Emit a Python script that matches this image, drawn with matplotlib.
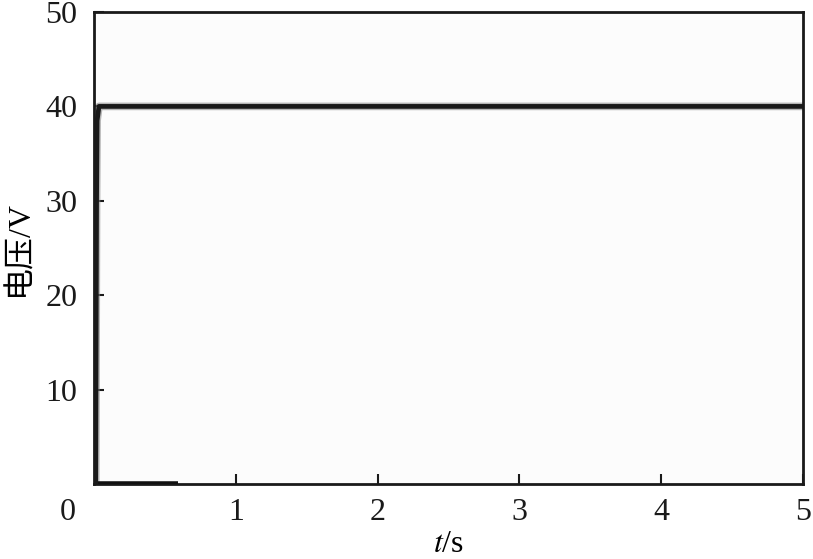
import matplotlib
matplotlib.use('Agg')
import matplotlib.pyplot as plt
import matplotlib.transforms as mtransforms

# voltage trace
t = [0.0, 0.012, 0.018, 0.022, 0.035, 0.1, 1.0, 2.0, 3.0, 4.0, 5.0]
v = [0.0, 0.0, 30.0, 38.5, 40.0, 40.0, 40.0, 40.0, 40.0, 40.0, 40.0]
# flat segment at zero along the bottom
t0 = [0.0, 0.59]
v0 = [0.0, 0.0]

xticks = [0, 1, 2, 3, 4, 5]
yticks = [10, 20, 30, 40, 50]

plt.rcParams['font.family'] = ['Liberation Serif', 'Noto Sans CJK SC']
plt.rcParams['mathtext.fontset'] = 'stix'

fig = plt.figure(figsize=(8.13, 5.59), dpi=100)
ax = fig.add_axes([94/813, 1 - 484/559, (803-94)/813, (484-12)/559])
ax.set_facecolor('#fcfcfc')

ax.plot(t0, v0, color='#111111', linewidth=4, solid_capstyle='butt', zorder=3)
ax.plot(t, v, color='#888888', linewidth=5.5, alpha=0.6, zorder=2)
ax.plot(t, v, color='#1a1a1a', linewidth=3.4, zorder=3)

ax.set_xlim(0, 5)
ax.set_ylim(0, 50)
ax.set_xticks(xticks)
ax.set_yticks(yticks)
ax.set_xticklabels([str(x) for x in xticks])
ax.set_yticklabels([str(y) for y in yticks])
ax.tick_params(direction='in', length=7, width=1.5, labelsize=23, colors='#1a1a1a')
ax.tick_params(axis='y', pad=12)
ax.tick_params(axis='x', pad=10)
ax.xaxis.get_major_ticks()[0].tick1line.set_visible(False)
for s in ax.spines.values():
    s.set_linewidth(2)
    s.set_color('#1a1a1a')

# origin label sits left of the corner
shift = mtransforms.ScaledTranslation(-26/100, 0, fig.dpi_scale_trans)
lab0 = ax.get_xticklabels()[0]
lab0.set_transform(lab0.get_transform() + shift)

ax.set_ylabel('电压/V', fontsize=23, labelpad=8)
ax.set_xlabel('$t$/s', fontsize=23, labelpad=2)

fig.savefig('out.png', dpi=100)
